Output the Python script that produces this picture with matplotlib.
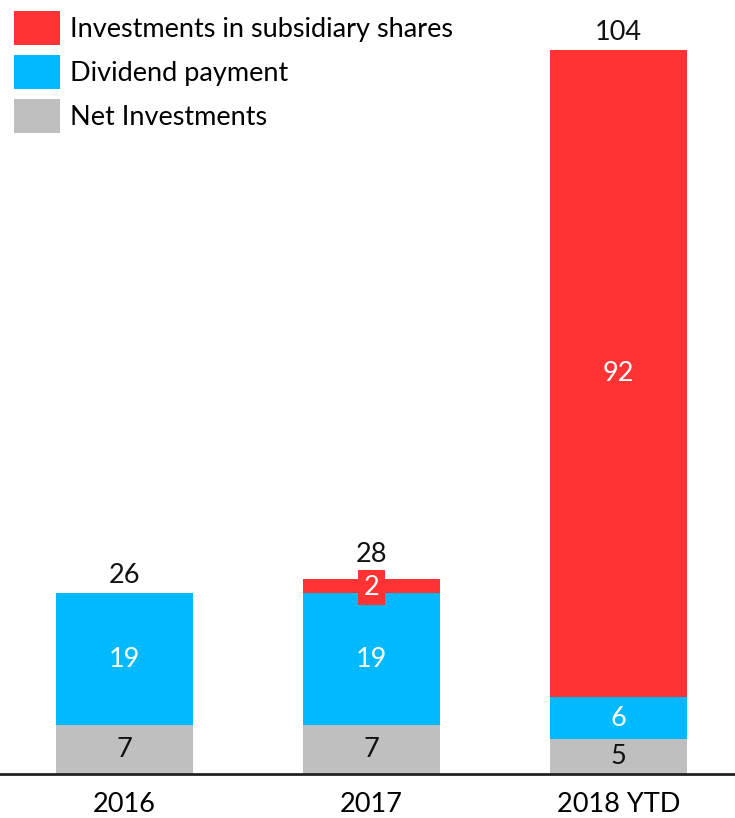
import numpy as np
import matplotlib as mpl
import matplotlib.pyplot as plt

mpl.rcParams['font.family'] = ['Lato', 'DejaVu Sans']

years = ['2016', '2017', '2018 YTD']
net_inv = [7, 7, 5]
dividend = [19, 19, 6]
subsidiary = [0, 2, 93]
subsidiary_lbl = [None, 2, 92]
totals = [26, 28, 104]

c_red = '#FF3333'
c_blue = '#00B9FF'
c_gray = '#BFBFBF'

fig = plt.figure(figsize=(7.35, 8.18), dpi=100)
ax = fig.add_axes([0, 44 / 818, 1, 774 / 818])

x = np.arange(len(years))
w = 0.555
net = np.array(net_inv)
div = np.array(dividend)
sub = np.array(subsidiary)

ax.bar(x, sub, w, bottom=net + div, color=c_red, label='Investments in subsidiary shares')
ax.bar(x, div, w, bottom=net, color=c_blue, label='Dividend payment')
ax.bar(x, net, w, color=c_gray, label='Net Investments')

fs = 19.5
for i in range(len(years)):
    ax.text(x[i], net[i] / 2, str(net_inv[i]), ha='center', va='center',
            fontsize=fs, color='#111111')
    ax.text(x[i], net[i] + div[i] / 2, str(dividend[i]), ha='center', va='center',
            fontsize=fs, color='white')
    top = net[i] + div[i] + sub[i]
    lift = 0.7
    if subsidiary_lbl[i] is not None:
        if sub[i] < 5:
            # small segment: label sits in a red box that sticks out of the bar
            ax.text(x[i], net[i] + div[i] + sub[i] / 2 - 0.2, str(subsidiary_lbl[i]),
                    ha='center', va='center', fontsize=fs, color='white',
                    bbox=dict(boxstyle='square,pad=0.2', fc=c_red, ec='none'))
            lift = 1.8
        else:
            ax.text(x[i], net[i] + div[i] + sub[i] / 2, str(subsidiary_lbl[i]),
                    ha='center', va='center', fontsize=fs, color='white')
    ax.text(x[i], top + lift, str(totals[i]), ha='center', va='bottom',
            fontsize=fs, color='#111111')

ax.set_xlim(-0.504, 2.472)
ax.set_ylim(0, 111.2)
ax.set_xticks(x)
ax.set_xticklabels(years, fontsize=fs)
ax.tick_params(axis='x', length=0, pad=13)
ax.set_yticks([])
for s in ['top', 'right', 'left']:
    ax.spines[s].set_visible(False)
ax.spines['bottom'].set_linewidth(2)
ax.spines['bottom'].set_color('#222222')

leg = ax.legend(loc='upper left', bbox_to_anchor=(14 / 735, 1 - 11 / 818),
                bbox_transform=fig.transFigure, frameon=False,
                fontsize=fs, handlelength=1.7, handleheight=1.57,
                handletextpad=0.35, labelspacing=0.36, borderaxespad=0, borderpad=0)

fig.savefig('out.png', dpi=100)
